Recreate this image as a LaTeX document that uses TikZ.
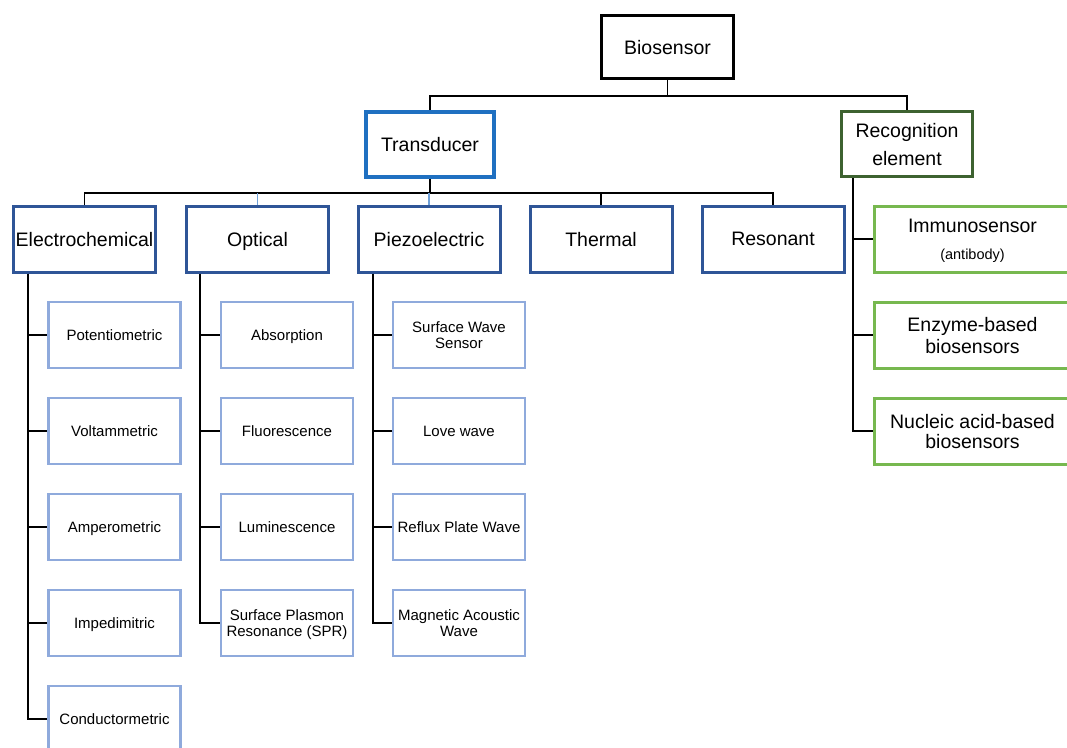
\documentclass[tikz,border=0pt]{standalone}
\usepackage{fontspec}
\setmainfont{Liberation Sans}
\definecolor{trblue}{HTML}{1F70C1}
\definecolor{lvtwo}{HTML}{2F5597}
\definecolor{lvthree}{HTML}{8FAADC}
\definecolor{recgreen}{HTML}{3D6230}
\definecolor{ltgreen}{HTML}{77B84F}
\definecolor{stubblue}{HTML}{6FA0D8}
\tikzset{
  box/.style={draw, rectangle, align=center, inner sep=0pt, text=black, text depth=0pt},
  bigfont/.style={font=\fontsize{19.5}{23}\selectfont},
  smallfont/.style={font=\fontsize{15}{16}\selectfont},
  rootbox/.style={box, bigfont, line width=3pt, draw=black, minimum width=132pt, minimum height=63pt},
  transbox/.style={box, bigfont, line width=4pt, draw=trblue, minimum width=128pt, minimum height=65pt},
  recbox/.style={box, bigfont, line width=3pt, draw=recgreen, minimum width=131pt, minimum height=65pt},
  typebox/.style={box, bigfont, line width=3pt, draw=lvtwo, minimum width=142pt, minimum height=66pt},
  subbox/.style={box, smallfont, line width=2.5pt, draw=lvthree, minimum width=132pt, minimum height=66pt},
  greenbox/.style={box, bigfont, line width=3pt, draw=ltgreen, minimum width=196pt, minimum height=66pt},
  conn/.style={draw=black, line width=1.5pt},
  lconn/.style={draw=stubblue, line width=1.5pt},
}
\begin{document}
\begin{tikzpicture}[x=1pt, y=-1pt]
\useasboundingbox (0,0) rectangle (1067,747);
\clip (0,0) rectangle (1067,747);
% level 0/1
\node[rootbox] (bio) at (667.5,47) {Biosensor};
\node[transbox] (trans) at (430,144.5) {Transducer};
\node[recbox] (rec) at (907,144) {Recognition\\[5pt]element};
% level 2
\node[typebox] (electro) at (84.5,239) {Electrochemical};
\node[typebox] (optical) at (257.5,239) {Optical};
\node[typebox] (piezo) at (429,239) {Piezoelectric};
\node[typebox] (thermal) at (601,239) {Thermal};
\node[typebox] (reson) at (773,239) {Resonant};
% electrochemical children
\node[subbox] (pot) at (114.5,335) {Potentiometric};
\node[subbox] (volt) at (114.5,431) {Voltammetric};
\node[subbox] (amp) at (114.5,527) {Amperometric};
\node[subbox] (imp) at (114.5,623) {Impedimitric};
\node[subbox] (cond) at (114.5,719) {Conductormetric};
% optical children
\node[subbox] (abs) at (287,335) {Absorption};
\node[subbox] (fluo) at (287,431) {Fluorescence};
\node[subbox] (lum) at (287,527) {Luminescence};
\node[subbox] (spr) at (287,623) {Surface Plasmon\\Resonance (SPR)};
% piezo children
\node[subbox] (saw) at (459,335) {Surface Wave\\Sensor};
\node[subbox] (love) at (459,431) {Love wave};
\node[subbox] (reflux) at (459,527) {Reflux Plate Wave};
\node[subbox] (mag) at (459,623) {Magnetic Acoustic\\Wave};
% recognition children
\node[greenbox] (immuno) at (972.5,239) {Immunosensor\\[4pt]{\fontsize{14.5}{15}\selectfont (antibody)}};
\node[greenbox] (enzyme) at (972.5,335) {Enzyme-based\\[-1pt]biosensors};
\node[greenbox] (nucleic) at (972.5,431) {Nucleic acid-based\\[-3pt]biosensors};
% connectors top
\coordinate (busA) at (667.5,96);
\draw[conn] (bio.south) -- (busA);
\draw[conn] (trans.north) |- (busA) -| (rec.north);
% transducer bus
\coordinate (busT) at (430,193);
\draw[conn] (trans.south) -- (busT);
\draw[conn] (electro.north) -- (electro.north |- busT) -- (reson.north |- busT) -- (reson.north);
\draw[conn] (thermal.north) -- (thermal.north |- busT);
\draw[lconn] (optical.north) -- (optical.north |- busT);
\draw[lconn] (piezo.north) -- (piezo.north |- busT);
% electrochemical spine
\coordinate (eS) at ([xshift=-56.5pt]electro.south);
\draw[conn] (eS) |- (cond.west);
\foreach \n in {pot,volt,amp,imp} \draw[conn] (eS |- \n.west) -- (\n.west);
% optical spine
\coordinate (oS) at ([xshift=-57.5pt]optical.south);
\draw[conn] (oS) |- (spr.west);
\foreach \n in {abs,fluo,lum} \draw[conn] (oS |- \n.west) -- (\n.west);
% piezo spine
\coordinate (pS) at ([xshift=-56pt]piezo.south);
\draw[conn] (pS) |- (mag.west);
\foreach \n in {saw,love,reflux} \draw[conn] (pS |- \n.west) -- (\n.west);
% recognition spine
\coordinate (rS) at ([xshift=-54pt]rec.south);
\draw[conn] (rS) |- (nucleic.west);
\foreach \n in {immuno,enzyme} \draw[conn] (rS |- \n.west) -- (\n.west);
\end{tikzpicture}
\end{document}
